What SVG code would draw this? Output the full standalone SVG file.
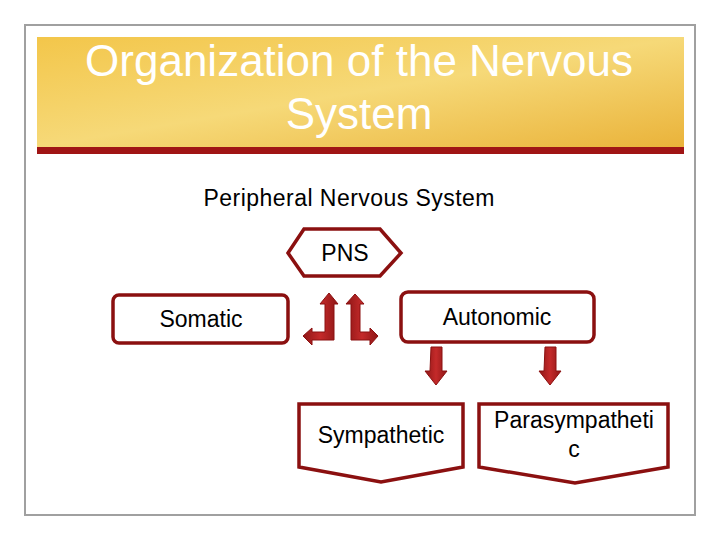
<svg xmlns="http://www.w3.org/2000/svg" width="720" height="540" viewBox="0 0 720 540">
<defs>
<linearGradient id="gold" x1="0" y1="0" x2="1" y2="1">
<stop offset="0" stop-color="#f3c64a"/><stop offset="0.5" stop-color="#f6d978"/><stop offset="1" stop-color="#eab33a"/>
</linearGradient>
<linearGradient id="ar" x1="0" y1="0" x2="1" y2="0">
<stop offset="0" stop-color="#8e1616"/><stop offset="0.5" stop-color="#c42a2a"/><stop offset="1" stop-color="#8e1616"/>
</linearGradient>
<style>
.b{fill:#fff;stroke:#8b1010;stroke-width:3.5}
.t{font-family:"Liberation Sans",Arial,sans-serif;font-size:23px;fill:#000;text-anchor:middle}
.a{fill:url(#ar);stroke:#8b1010;stroke-width:1}
</style>
</defs>
<rect x="0" y="0" width="720" height="540" fill="#fff"/>
<rect x="25" y="25" width="670" height="490" fill="#fff" stroke="#a0a0a0" stroke-width="2"/>
<rect x="37" y="37" width="647" height="110" fill="url(#gold)"/>
<rect x="37" y="147" width="647" height="7" fill="#a01515"/>
<text x="359" y="76" class="t" style="font-size:44px;fill:#fff">Organization of the Nervous</text>
<text x="359" y="129" class="t" style="font-size:44px;fill:#fff">System</text>
<text x="349" y="206" class="t" textLength="291">Peripheral Nervous System</text>
<g id="pns"><polygon class="b" points="288,253 304,229 380,229 401,253 380,276 304,276"/><text x="345" y="261" class="t">PNS</text></g>
<g id="somatic"><rect class="b" x="113" y="295" width="175" height="48" rx="6"/><text x="201" y="327" class="t">Somatic</text></g>
<g id="autonomic"><rect class="b" x="401" y="292" width="193" height="50" rx="7"/><text x="497" y="325" class="t">Autonomic</text></g>
<g id="sympathetic"><polygon class="b" points="299,404 463,404 463,467 381,482 299,467"/><text x="381" y="443" class="t">Sympathetic</text></g>
<g id="parasympathetic"><polygon class="b" points="479,404 668,404 668,467 575,483 479,467"/><text x="574" y="428" class="t">Parasympatheti</text><text x="574" y="457" class="t">c</text></g>
<g id="connectors">
<path class="a" d="M329,293 L338,304 L334,304 L334,340 L312,340 L312,345 L303,336 L312,328 L312,332 L325,332 L325,304 L320,304 Z"/>
<path class="a" d="M355,294 L364,304 L360,304 L360,332 L370,332 L370,328 L378,336 L370,345 L370,340 L351,340 L351,304 L346,304 Z"/>
<path class="a" d="M431,347 L442,347 L442,371 L447,371 L436,385 L425,371 L430,371 Z"/>
<path class="a" d="M545,347 L556,347 L556,371 L561,371 L550,385 L539,371 L544,371 Z"/>
</g>
</svg>
